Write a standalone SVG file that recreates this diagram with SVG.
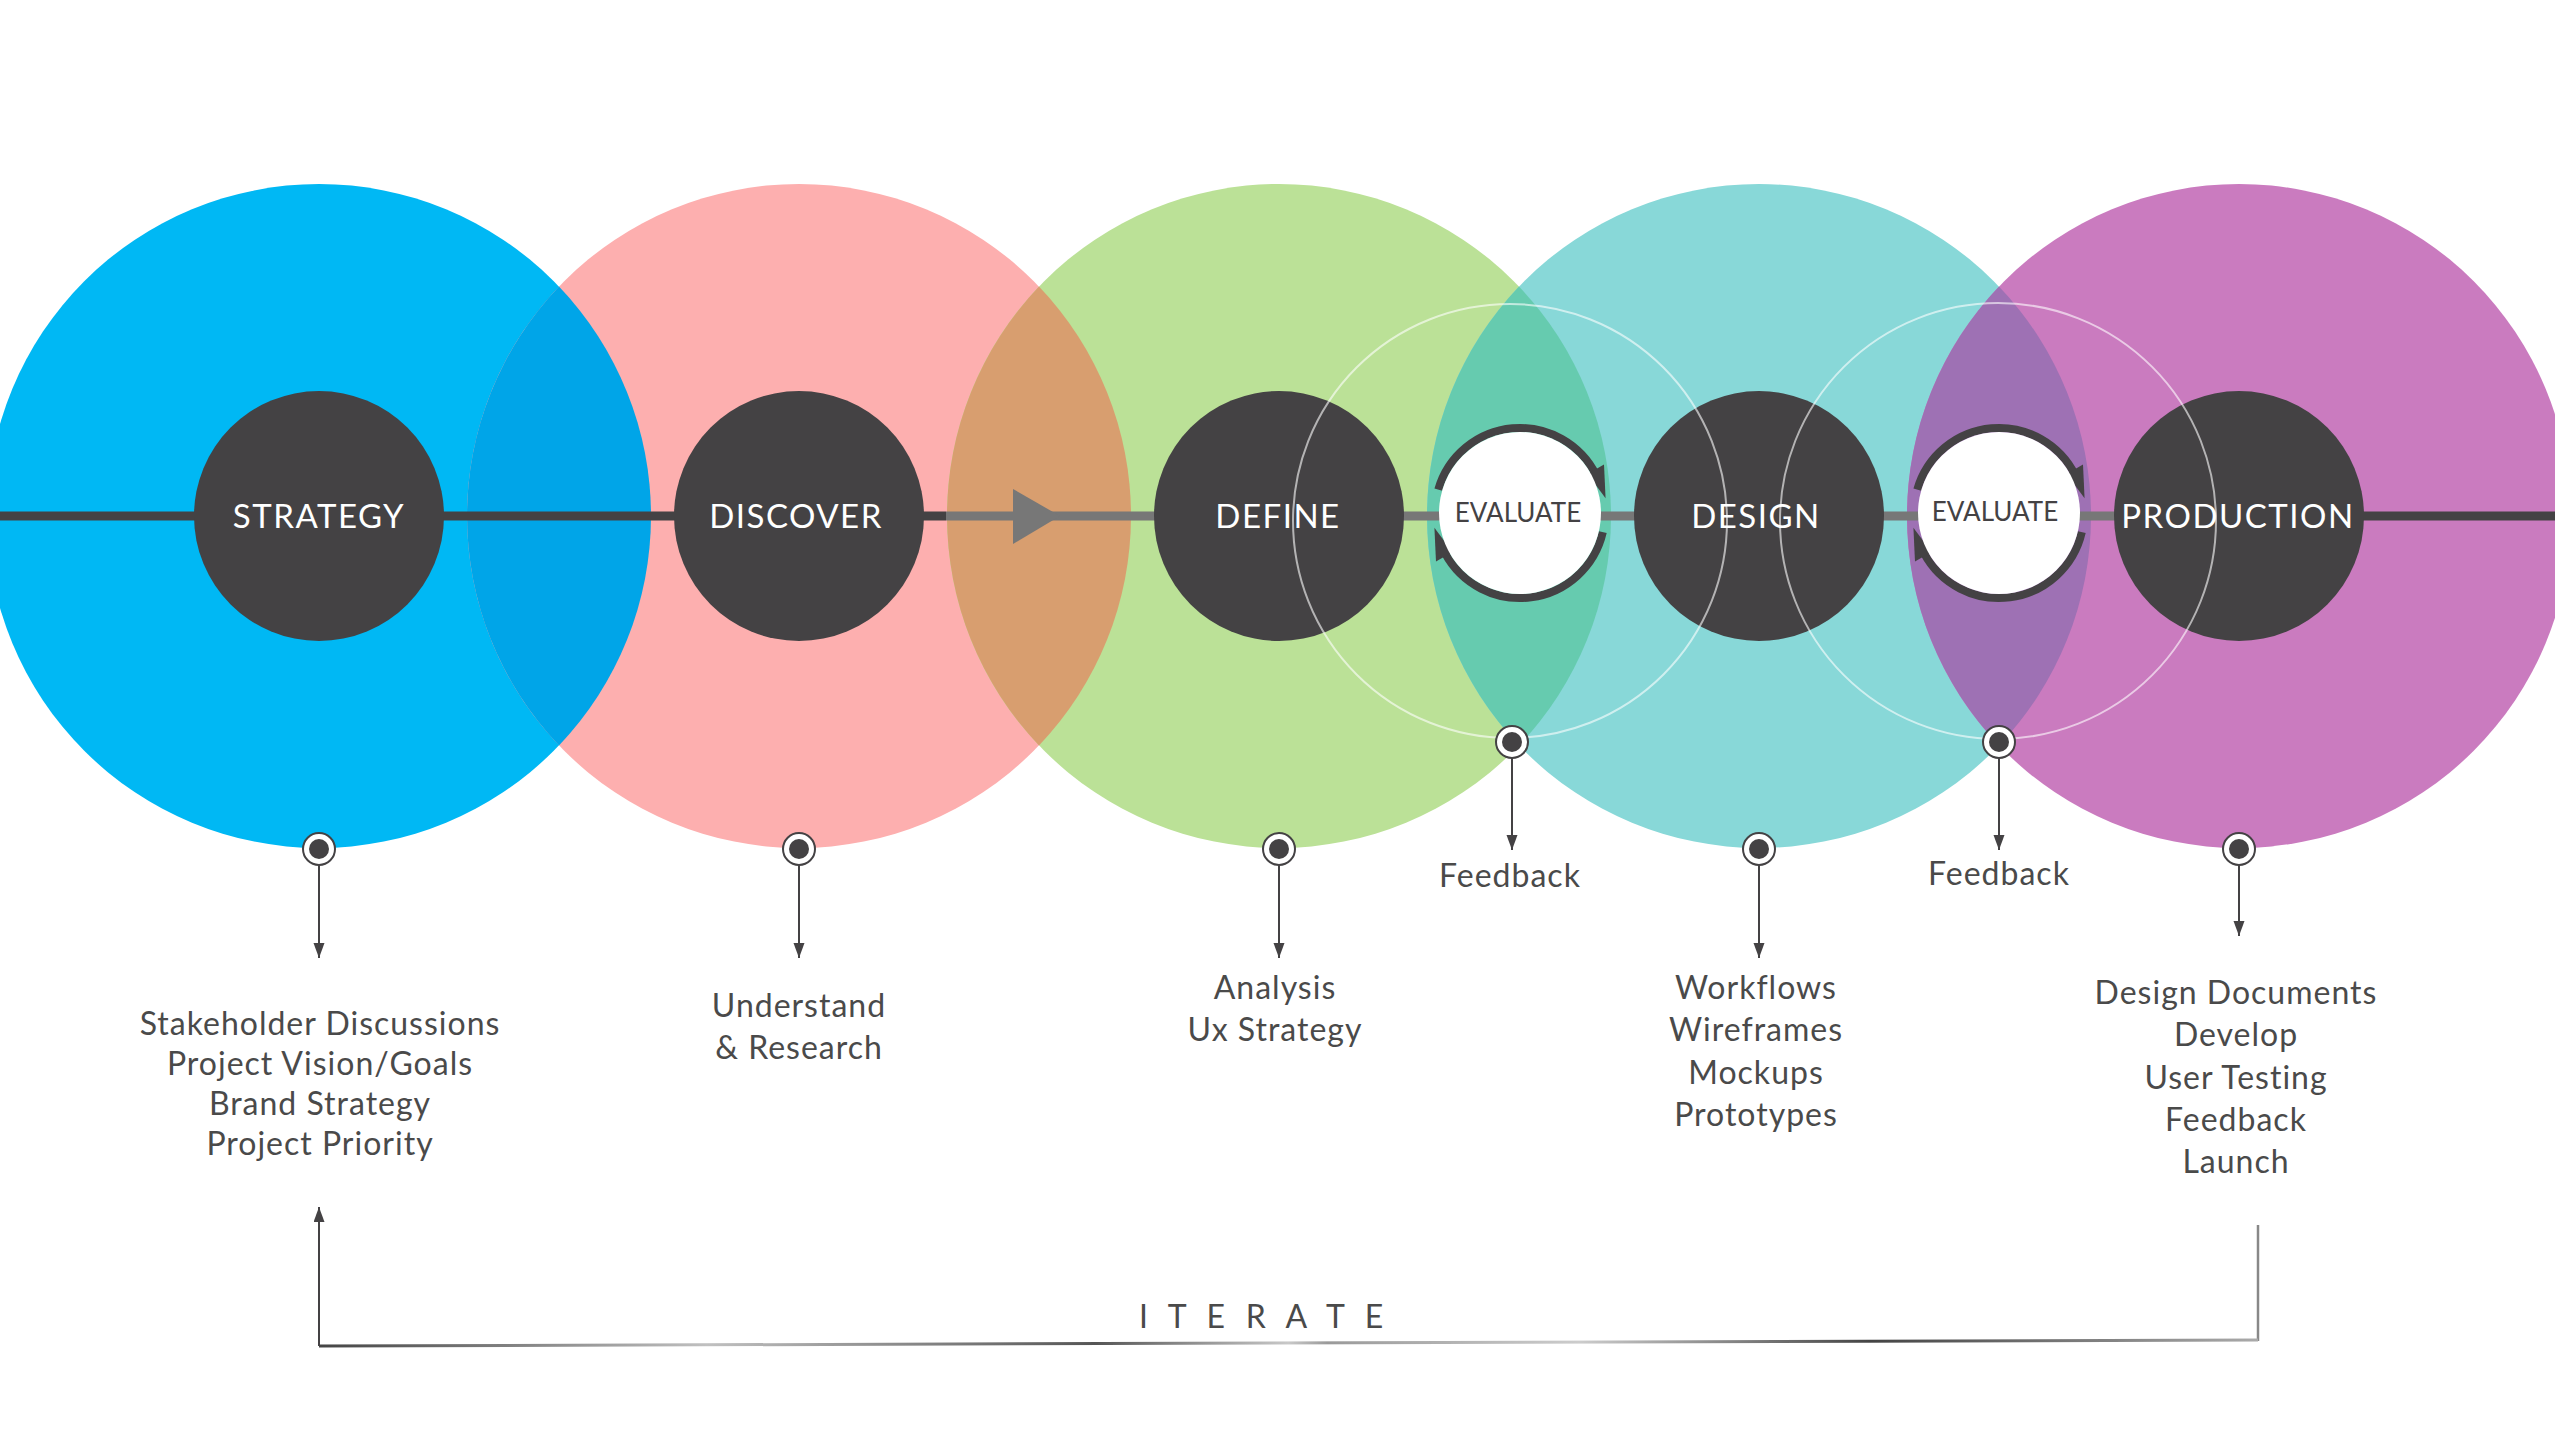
<svg xmlns="http://www.w3.org/2000/svg" width="2555" height="1440" viewBox="0 0 2555 1440">
<style>
.node-label{font-family:Lato,"Noto Sans",sans-serif;font-size:33px;fill:#ffffff;letter-spacing:1.5px;text-anchor:middle}
.eval-label{font-family:Lato,"Noto Sans",sans-serif;font-size:26px;fill:#444244;text-anchor:middle}
.body{font-family:Lato,"Noto Sans",sans-serif;font-size:32px;fill:#4a4a4a;letter-spacing:1px;text-anchor:middle}
.iter{font-family:Lato,"Noto Sans",sans-serif;font-size:32px;fill:#4a4a4a;letter-spacing:6.3px}
.dark{fill:#444244}
.guide{fill:none;stroke:#ffffff;stroke-opacity:0.6;stroke-width:2}
.pinline{stroke:#444244;stroke-width:2;fill:none}
.ring{fill:none;stroke:#444244;stroke-width:8}
</style>
<defs>
<marker id="ah" markerUnits="userSpaceOnUse" markerWidth="16" markerHeight="12" refX="15" refY="5.5" orient="auto">
<path d="M0,0 L15,5.5 L0,11 Z" fill="#444244"/>
</marker>
<g id="pin">
<circle r="16" fill="#ffffff" stroke="#444244" stroke-width="2"/>
<circle r="10" fill="#444244"/>
</g>
<g id="evalring">
<path class="ring" d="M-81.7,-23.4 A85,85 0 0 1 76.4,-37.3"/>
<path class="ring" d="M82.8,19.1 A85,85 0 0 1 -75.1,39.9"/>
<polygon class="dark" points="78,0 97,0 81.5,30" transform="rotate(330)"/>
<polygon class="dark" points="78,0 97,0 81.5,30" transform="rotate(150)"/>
<circle r="81" fill="#ffffff"/>
</g>
<linearGradient id="itergrad" gradientUnits="userSpaceOnUse" x1="319" y1="0" x2="2258" y2="0">
<stop offset="0" stop-color="#444444"/>
<stop offset="0.2" stop-color="#c0c0c0"/>
<stop offset="0.4" stop-color="#555555"/>
<stop offset="0.5" stop-color="#c8c8c8"/>
<stop offset="0.52" stop-color="#9a9a9a"/>
<stop offset="0.65" stop-color="#cccccc"/>
<stop offset="0.8" stop-color="#444444"/>
<stop offset="1" stop-color="#aaaaaa"/>
</linearGradient>
</defs>

<g id="zones">
<circle cx="319" cy="516" r="332" fill="#00B8F4"/>
<circle cx="799" cy="516" r="332" fill="#FDAFAF"/>
<circle cx="1279" cy="516" r="332" fill="#BBE197"/>
<circle cx="1759" cy="516" r="332" fill="#88D8D8"/>
<circle cx="2239" cy="516" r="332" fill="#CA7BBF"/>
<path d="M559,286.6 A332,332 0 0 1 559,745.4 A332,332 0 0 1 559,286.6 Z" fill="#00A5E8"/>
<path d="M1039,286.6 A332,332 0 0 1 1039,745.4 A332,332 0 0 1 1039,286.6 Z" fill="#D89E6F"/>
<path d="M1519,286.6 A332,332 0 0 1 1519,745.4 A332,332 0 0 1 1519,286.6 Z" fill="#66CBAF"/>
<path d="M1999,286.6 A332,332 0 0 1 1999,745.4 A332,332 0 0 1 1999,286.6 Z" fill="#9E71B4"/>
</g>

<g id="connectors">
<line x1="0" y1="516" x2="946" y2="516" stroke="#444244" stroke-width="9"/>
<line x1="946" y1="516" x2="2239" y2="516" stroke="#777777" stroke-width="9"/>
<line x1="2239" y1="516" x2="2555" y2="516" stroke="#444244" stroke-width="9"/>
<polygon points="1013,489 1013,544 1060,516" fill="#777777"/>
<line class="pinline" x1="319" y1="865" x2="319" y2="958" marker-end="url(#ah)"/>
<line class="pinline" x1="799" y1="865" x2="799" y2="958" marker-end="url(#ah)"/>
<line class="pinline" x1="1279" y1="865" x2="1279" y2="958" marker-end="url(#ah)"/>
<line class="pinline" x1="1759" y1="865" x2="1759" y2="958" marker-end="url(#ah)"/>
<line class="pinline" x1="2239" y1="865" x2="2239" y2="936" marker-end="url(#ah)"/>
<line class="pinline" x1="1512" y1="758" x2="1512" y2="850" marker-end="url(#ah)"/>
<line class="pinline" x1="1999" y1="758" x2="1999" y2="850" marker-end="url(#ah)"/>
<line x1="2258" y1="1225" x2="2258" y2="1341" stroke="#888888" stroke-width="2.5"/>
<line x1="2258" y1="1340" x2="319" y2="1346" stroke="url(#itergrad)" stroke-width="3"/>
<line x1="319" y1="1346" x2="319" y2="1207" stroke="#444244" stroke-width="2" marker-end="url(#ah)"/>
</g>

<g id="node-strategy">
<circle class="dark" cx="319" cy="516" r="125"/>
<text class="node-label" x="319" y="528">STRATEGY</text>
</g>
<g id="node-discover">
<circle class="dark" cx="799" cy="516" r="125"/>
<text class="node-label" x="796" y="528">DISCOVER</text>
</g>
<g id="node-define">
<circle class="dark" cx="1279" cy="516" r="125"/>
<text class="node-label" x="1278" y="528">DEFINE</text>
</g>
<g id="node-design">
<circle class="dark" cx="1759" cy="516" r="125"/>
<text class="node-label" x="1756" y="528">DESIGN</text>
</g>
<g id="node-production">
<circle class="dark" cx="2239" cy="516" r="125"/>
<text class="node-label" x="2238" y="528">PRODUCTION</text>
</g>

<g id="guides">
<circle class="guide" cx="1510" cy="521" r="217"/>
<circle class="guide" cx="1998" cy="521" r="218"/>
</g>

<g id="node-evaluate-1">
<use href="#evalring" transform="translate(1520,513)"/>
<text class="eval-label" x="1518" y="522">EVALUATE</text>
</g>
<g id="node-evaluate-2">
<use href="#evalring" transform="translate(1999,513)"/>
<text class="eval-label" x="1995" y="521">EVALUATE</text>
</g>

<g id="pins">
<use href="#pin" x="319" y="849"/>
<use href="#pin" x="799" y="849"/>
<use href="#pin" x="1279" y="849"/>
<use href="#pin" x="1759" y="849"/>
<use href="#pin" x="2239" y="849"/>
<use href="#pin" x="1512" y="742"/>
<use href="#pin" x="1999" y="742"/>
</g>

<g id="labels">
<text class="body" x="320" y="1035">Stakeholder Discussions</text>
<text class="body" x="320" y="1075">Project Vision/Goals</text>
<text class="body" x="320" y="1115">Brand Strategy</text>
<text class="body" x="320" y="1155">Project Priority</text>
<text class="body" x="799" y="1017">Understand</text>
<text class="body" x="799" y="1059">&amp; Research</text>
<text class="body" x="1275" y="999">Analysis</text>
<text class="body" x="1275" y="1041">Ux Strategy</text>
<text class="body" x="1756" y="999">Workflows</text>
<text class="body" x="1756" y="1041">Wireframes</text>
<text class="body" x="1756" y="1084">Mockups</text>
<text class="body" x="1756" y="1126">Prototypes</text>
<text class="body" x="2236" y="1004">Design Documents</text>
<text class="body" x="2236" y="1046">Develop</text>
<text class="body" x="2236" y="1089">User Testing</text>
<text class="body" x="2236" y="1131">Feedback</text>
<text class="body" x="2236" y="1173">Launch</text>
<text class="body" x="1510" y="887">Feedback</text>
<text class="body" x="1999" y="885">Feedback</text>
<text class="iter" x="1139" y="1328">I T E R A T E</text>
</g>
</svg>
